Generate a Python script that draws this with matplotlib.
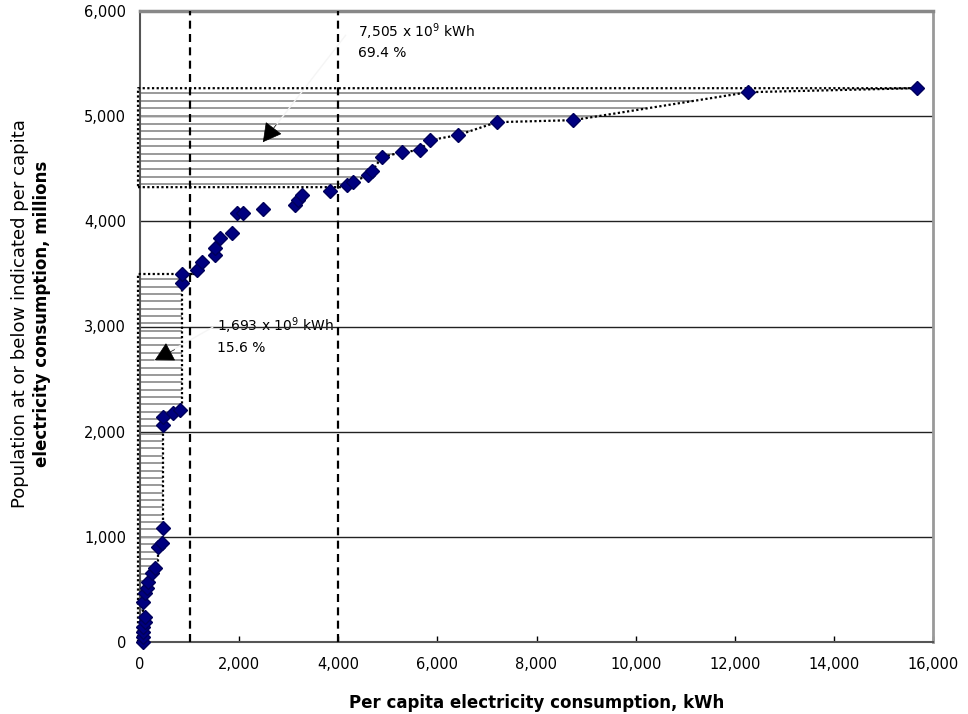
import numpy as np
import matplotlib
matplotlib.use("Agg")
from matplotlib import pyplot as plt
from matplotlib.ticker import FuncFormatter, MultipleLocator

# per capita consumption (kWh) and cumulative population (millions), sorted by population
cons = [60, 60, 60, 60, 100, 100, 60, 100, 140, 160, 240, 300, 360, 440, 460,
        460, 460, 670, 810, 850, 850, 1150, 1250, 1510, 1510, 1610, 1860, 1960,
        2080, 2480, 3130, 3190, 3270, 3830, 4180, 4300, 4600, 4680, 4880, 5290,
        5650, 5850, 6420, 7200, 8740, 12270, 15680]
pop = [0, 48, 95, 143, 190, 238, 380, 466, 513, 570, 656, 703, 903, 941, 1084,
       2063, 2139, 2177, 2205, 3413, 3498, 3536, 3612, 3679, 3745, 3840, 3888,
       4078, 4078, 4116, 4154, 4202, 4249, 4287, 4344, 4373, 4439, 4477, 4610,
       4658, 4677, 4772, 4820, 4943, 4962, 5228, 5266]

thresholds = [1000, 4000]          # dashed reference lines, kWh
region_high = (4325, 5266)         # population band of the upper hatched area
region_low = (0, 3500)             # population band of the lower hatched area
note_high = ["7,505 x 10$^{9}$ kWh", "69.4 %"]
note_low = ["1,693 x 10$^{9}$ kWh", "15.6 %"]

cons_a = np.array(cons, dtype=float)
pop_a = np.array(pop, dtype=float)

plt.rcParams["font.family"] = ["DejaVu Sans"]
plt.rcParams["mathtext.default"] = "regular"

fig = plt.figure(figsize=(9.68, 7.14), dpi=100)
ax = fig.add_axes([140 / 968, 1 - 642 / 714, (933 - 140) / 968, (642 - 11) / 714])
ax.set_xlim(0, 16000)
ax.set_ylim(0, 6000)

# horizontal grid
for g in range(1000, 6000, 1000):
    ax.axhline(g, color="#222222", lw=1.0, zorder=1)

# dashed thresholds
for t in thresholds:
    ax.axvline(t, color="black", lw=1.6, linestyle=(0, (3.6, 2.4)), zorder=3)

x_left = -40
dot = (0, (1, 1.1))

# upper hatched area: between axis and the line through the points
lo, hi = region_high
hy = np.arange(lo + 29, hi - 40, 72)
ax.hlines(hy, 0, np.interp(hy, pop_a, cons_a), color="#9a9a9a", lw=1.4, zorder=2)
inside = (pop_a > lo) & (pop_a <= hi)
ox = np.concatenate([[x_left, np.interp(lo, pop_a, cons_a)], cons_a[inside], [x_left, x_left]])
oy = np.concatenate([[lo, lo], pop_a[inside], [hi, lo]])
ax.plot(ox, oy, color="black", lw=1.6, linestyle=dot, clip_on=False, zorder=4)

# lower hatched area: step outline (each country at its own consumption)
lo2, hi2 = region_low
hy2 = np.arange(lo2 + 20, hi2 - 20, 70)
idx = np.searchsorted(pop_a, hy2, side="left")
ax.hlines(hy2, 0, cons_a[idx], color="#9a9a9a", lw=1.4, zorder=2)
sx, sy = [x_left, x_left], [lo2, hi2]
top_i = np.searchsorted(pop_a, hi2, side="left")
sx.append(cons_a[top_i]); sy.append(hi2)
for i in range(top_i, 0, -1):
    sx += [cons_a[i], cons_a[i - 1]]
    sy += [pop_a[i - 1], pop_a[i - 1]]
sx.append(cons_a[0]); sy.append(lo2)
ax.plot(sx, sy, color="black", lw=1.6, linestyle=dot, clip_on=False, zorder=4)

# data points
ax.plot(cons_a, pop_a, "D", color="#000080", markeredgecolor="#00005a",
        markersize=7, zorder=6, clip_on=False)

# annotations
ax.text(4400, 5800, note_high[0], fontsize=10, va="center", zorder=0.5)
ax.text(4400, 5600, note_high[1], fontsize=10, va="center", zorder=0.5)
ax.text(1550, 3004, note_low[0], fontsize=10, va="center", zorder=0.5)
ax.text(1550, 2795, note_low[1], fontsize=10, va="center", zorder=0.5)

for start, tip, off in [((4150, 5770), (2480, 4753), (9.7, 12.7)),
                        ((1470, 2994), (300, 2681), (14.2, 7.5))]:
    ax.annotate("", xy=tip, xytext=start,
                arrowprops=dict(arrowstyle="-", color="#f5f5f5", lw=1,
                                shrinkA=0, shrinkB=0), zorder=2)
    ax.annotate("", xy=tip, xytext=off, textcoords="offset points",
                arrowprops=dict(arrowstyle="-|>,head_length=1.0,head_width=0.55",
                                color="black", lw=0.5, shrinkA=0, shrinkB=0,
                                mutation_scale=12), zorder=5)

# axes styling
fmt = FuncFormatter(lambda v, p: f"{int(v):,}")
ax.xaxis.set_major_locator(MultipleLocator(2000))
ax.yaxis.set_major_locator(MultipleLocator(1000))
ax.xaxis.set_major_formatter(fmt)
ax.yaxis.set_major_formatter(fmt)
ax.tick_params(axis="x", direction="in", length=4, width=1, pad=11, labelsize=10.5)
ax.tick_params(axis="y", length=0, pad=10, labelsize=10.5)

ax.spines["left"].set_color("#555555"); ax.spines["left"].set_linewidth(1.5)
ax.spines["bottom"].set_color("#555555"); ax.spines["bottom"].set_linewidth(1.5)
ax.spines["top"].set_color("#888888"); ax.spines["top"].set_linewidth(2.5)
ax.spines["right"].set_color("#999999"); ax.spines["right"].set_linewidth(2)

fig.text(537 / 968, 1 - 703 / 714, "Per capita electricity consumption, kWh",
         fontsize=12, fontweight="bold", ha="center", va="center")
fig.text(20 / 968, 1 - 314 / 714, "Population at or below indicated per capita",
         fontsize=13, rotation=90, ha="center", va="center")
fig.text(42 / 968, 1 - 314 / 714, "electricity consumption, millions",
         fontsize=12, fontweight="bold", rotation=90, ha="center", va="center")

fig.savefig("out.png", dpi=100)
